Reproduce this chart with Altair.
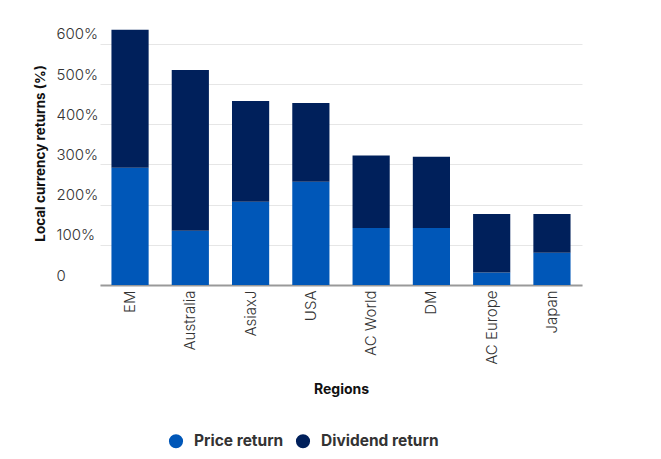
import altair as alt
import pandas as pd

regions = ["EM", "Australia", "AsiaxJ", "USA", "AC World", "DM", "AC Europe", "Japan"]
price = [292, 135, 207, 257, 142, 142, 31, 80]
dividend = [343, 400, 251, 196, 180, 177, 146, 97]
series = ["Price return", "Dividend return"]
colors = ["#0057b8", "#00205b"]
y_ticks = [0, 100, 200, 300, 400, 500, 600]

rows = []
for r, p, d in zip(regions, price, dividend):
    rows.append({"region": r, "series": series[0], "value": p, "ord": 0})
    rows.append({"region": r, "series": series[1], "value": d, "ord": 1})
df = pd.DataFrame(rows)

font = "Inter"

chart = alt.Chart(df).mark_bar().encode(
    x=alt.X(
        "region:N", sort=regions, title="Regions",
        scale=alt.Scale(range=[44, 526], paddingInner=0.383, paddingOuter=0.19),
        axis=alt.Axis(labelAngle=-90, ticks=False, labelPadding=5,
                      domainColor="#999999", domainWidth=2,
                      labelFontSize=15, labelFontWeight=300, labelColor="#333333",
                      labelFont=font,
                      titleFontSize=14, titleFontWeight="bold", titleColor="#111111",
                      titleFont=font, titlePadding=18),
    ),
    y=alt.Y(
        "value:Q", stack="zero", title="Local currency returns (%)",
        scale=alt.Scale(domain=[0, 657], nice=False),
        axis=alt.Axis(values=y_ticks,
                      labelExpr="datum.value == 0 ? '0' : datum.value + '%'",
                      labelAlign="left", labelBaseline="alphabetic", labelOffset=-5,
                      labelPadding=0, ticks=False, domain=False,
                      gridColor="#e6e6e6", labelFontSize=15, labelFontWeight=300,
                      labelColor="#333333",
                      labelFont=font, titleFont=font, titleFontSize=13.5,
                      titleFontWeight="bold", titleColor="#111111", titlePadding=9),
    ),
    color=alt.Color(
        "series:N", scale=alt.Scale(domain=series, range=colors),
        legend=alt.Legend(title=None, orient="none", legendX=112, legendY=412,
                          direction="horizontal", symbolType="circle", symbolSize=200,
                          labelFontSize=15.5, labelFontWeight="bold", labelColor="#333333",
                          labelFont=font, columnPadding=11, labelOffset=10),
    ),
    order=alt.Order("ord:Q"),
).properties(
    width=528, height=264,
    padding={"left": 25, "top": 13, "right": 5, "bottom": 5},
).configure_view(stroke=None)

chart.save("out.html", embed_options={"renderer": "svg", "actions": False})
